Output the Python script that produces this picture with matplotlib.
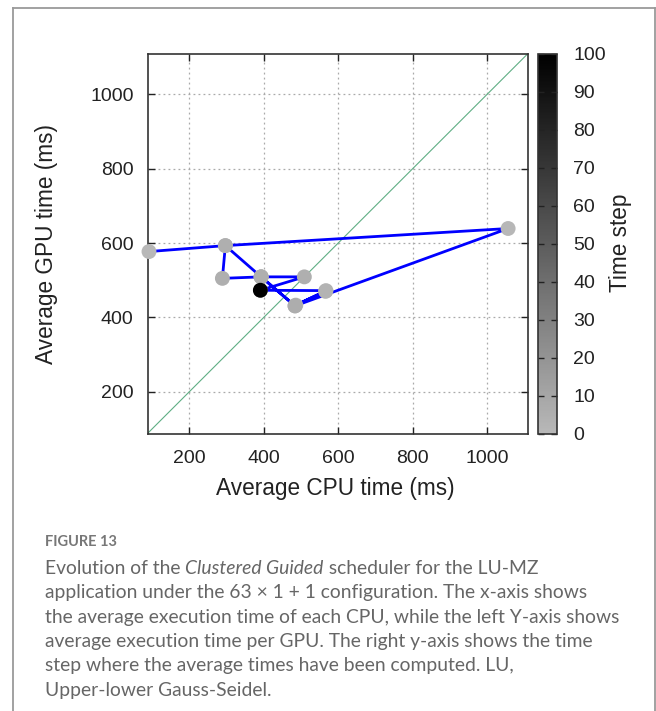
import matplotlib
matplotlib.use('Agg')
import matplotlib.pyplot as plt
from matplotlib.colors import LinearSegmentedColormap
from matplotlib.lines import Line2D

# data (ms), path of the scheduler in visiting order
cpu_ms = [92, 297, 1056, 484, 566, 486, 567, 391, 393, 484, 393, 297, 289, 393, 509, 391]
gpu_ms = [577, 593, 639, 431, 470, 433, 472, 473, 509, 431, 509, 593, 505, 509, 509, 473]
time_step = [0, 1, 1, 2, 2, 3, 3, 4, 4, 6, 5, 5, 5, 5, 5, 100]

ticks = [200, 400, 600, 800, 1000]
cb_ticks = list(range(0, 101, 10))
lim = [88, 1108]

caption_title = "FIGURE 13"
caption_lines = [
    "application under the 63 \u00d7 1 + 1 configuration. The x-axis shows",
    "the average execution time of each CPU, while the left Y-axis shows",
    "average execution time per GPU. The right y-axis shows the time",
    "step where the average times have been computed. LU,",
    "Upper-lower Gauss-Seidel.",
]

W, H = 656, 711
fig = plt.figure(figsize=(W / 100, H / 100), dpi=100)
plt.rcParams['font.family'] = ['Liberation Sans', 'DejaVu Sans']

def fx(px):
    return px / W

def fy(py):
    return 1 - py / H

# outer box (open at the bottom)
box_col = '#9a9a9a'
fig.add_artist(Line2D([fx(13), fx(13)], [fy(8), 0], color=box_col, lw=1.3, transform=fig.transFigure))
fig.add_artist(Line2D([fx(655), fx(655)], [fy(8), 0], color=box_col, lw=1.3, transform=fig.transFigure))
fig.add_artist(Line2D([fx(13), fx(655)], [fy(8), fy(8)], color=box_col, lw=1.3, transform=fig.transFigure))

ax = fig.add_axes([fx(147.5), fy(433.5), fx(527.5) - fx(147.5), fy(54) - fy(433.5)])
cmap = LinearSegmentedColormap.from_list('tgray', ['#b8b8b8', '#000000'])

ax.plot(lim, lim, color='#5fae84', lw=0.8, zorder=2)
ax.plot(cpu_ms, gpu_ms, color='#0000ff', lw=2.0, zorder=3)
sc = ax.scatter(cpu_ms, gpu_ms, c=time_step, cmap=cmap, vmin=0, vmax=100,
                s=115, zorder=4, clip_on=False, linewidths=0)

ax.set_xlim(lim)
ax.set_ylim(lim)
ax.set_xticks(ticks)
ax.set_yticks(ticks)
ax.grid(True, color='#aaaaaa', linestyle=(0, (1.5, 2.5)), lw=0.9)
ax.tick_params(direction='in', length=5, width=1, top=True, right=True,
               labelsize=14, colors='#222222', pad=10)
ax.tick_params(axis='x', pad=12)
for s in ax.spines.values():
    s.set_color('#333333')
    s.set_linewidth(1.2)

fig.text(fx(335), fy(489), 'Average CPU time (ms)', ha='center', va='center',
         fontsize=16.3, color='#222222')
fig.text(fx(47), fy(244), 'Average GPU time (ms)', ha='center', va='center',
         rotation=90, fontsize=16.3, color='#222222')

cax = fig.add_axes([fx(537.5), fy(433.5), fx(556.5) - fx(537.5), fy(54) - fy(433.5)])
cb = fig.colorbar(sc, cax=cax)
cb.set_ticks(cb_ticks)
cb.outline.set_edgecolor('#333333')
cb.outline.set_linewidth(1.2)
cax.tick_params(direction='in', length=4, width=1, left=True, right=True,
                labelsize=14, colors='#222222', pad=12)
fig.text(fx(621), fy(243), 'Time step', ha='center', va='center',
         rotation=90, fontsize=16.3, color='#222222')

# caption
cap_col = '#666666'
cap_font = ['Lato', 'DejaVu Sans']
fig.text(fx(45), fy(542), caption_title, ha='left', va='center', fontsize=10.5,
         fontweight='bold', color='#777777', family=cap_font)

renderer = fig.canvas.get_renderer()
y0 = fy(568)
parts = [("Evolution of the ", 'normal'), ("Clustered Guided", 'italic'),
         (" scheduler for the LU-MZ", 'normal')]
xcur = fx(45)
for txt, st in parts:
    t = fig.text(xcur, y0, txt, ha='left', va='center', fontsize=13.85,
                 style=st, color=cap_col, family=cap_font)
    bb = t.get_window_extent(renderer)
    xcur = bb.x1 / W
for i, line in enumerate(caption_lines):
    fig.text(fx(45), fy(568 + 24.5 * (i + 1)), line, ha='left', va='center',
             fontsize=13.85, color=cap_col, family=cap_font)

fig.savefig('out.png', dpi=100)
